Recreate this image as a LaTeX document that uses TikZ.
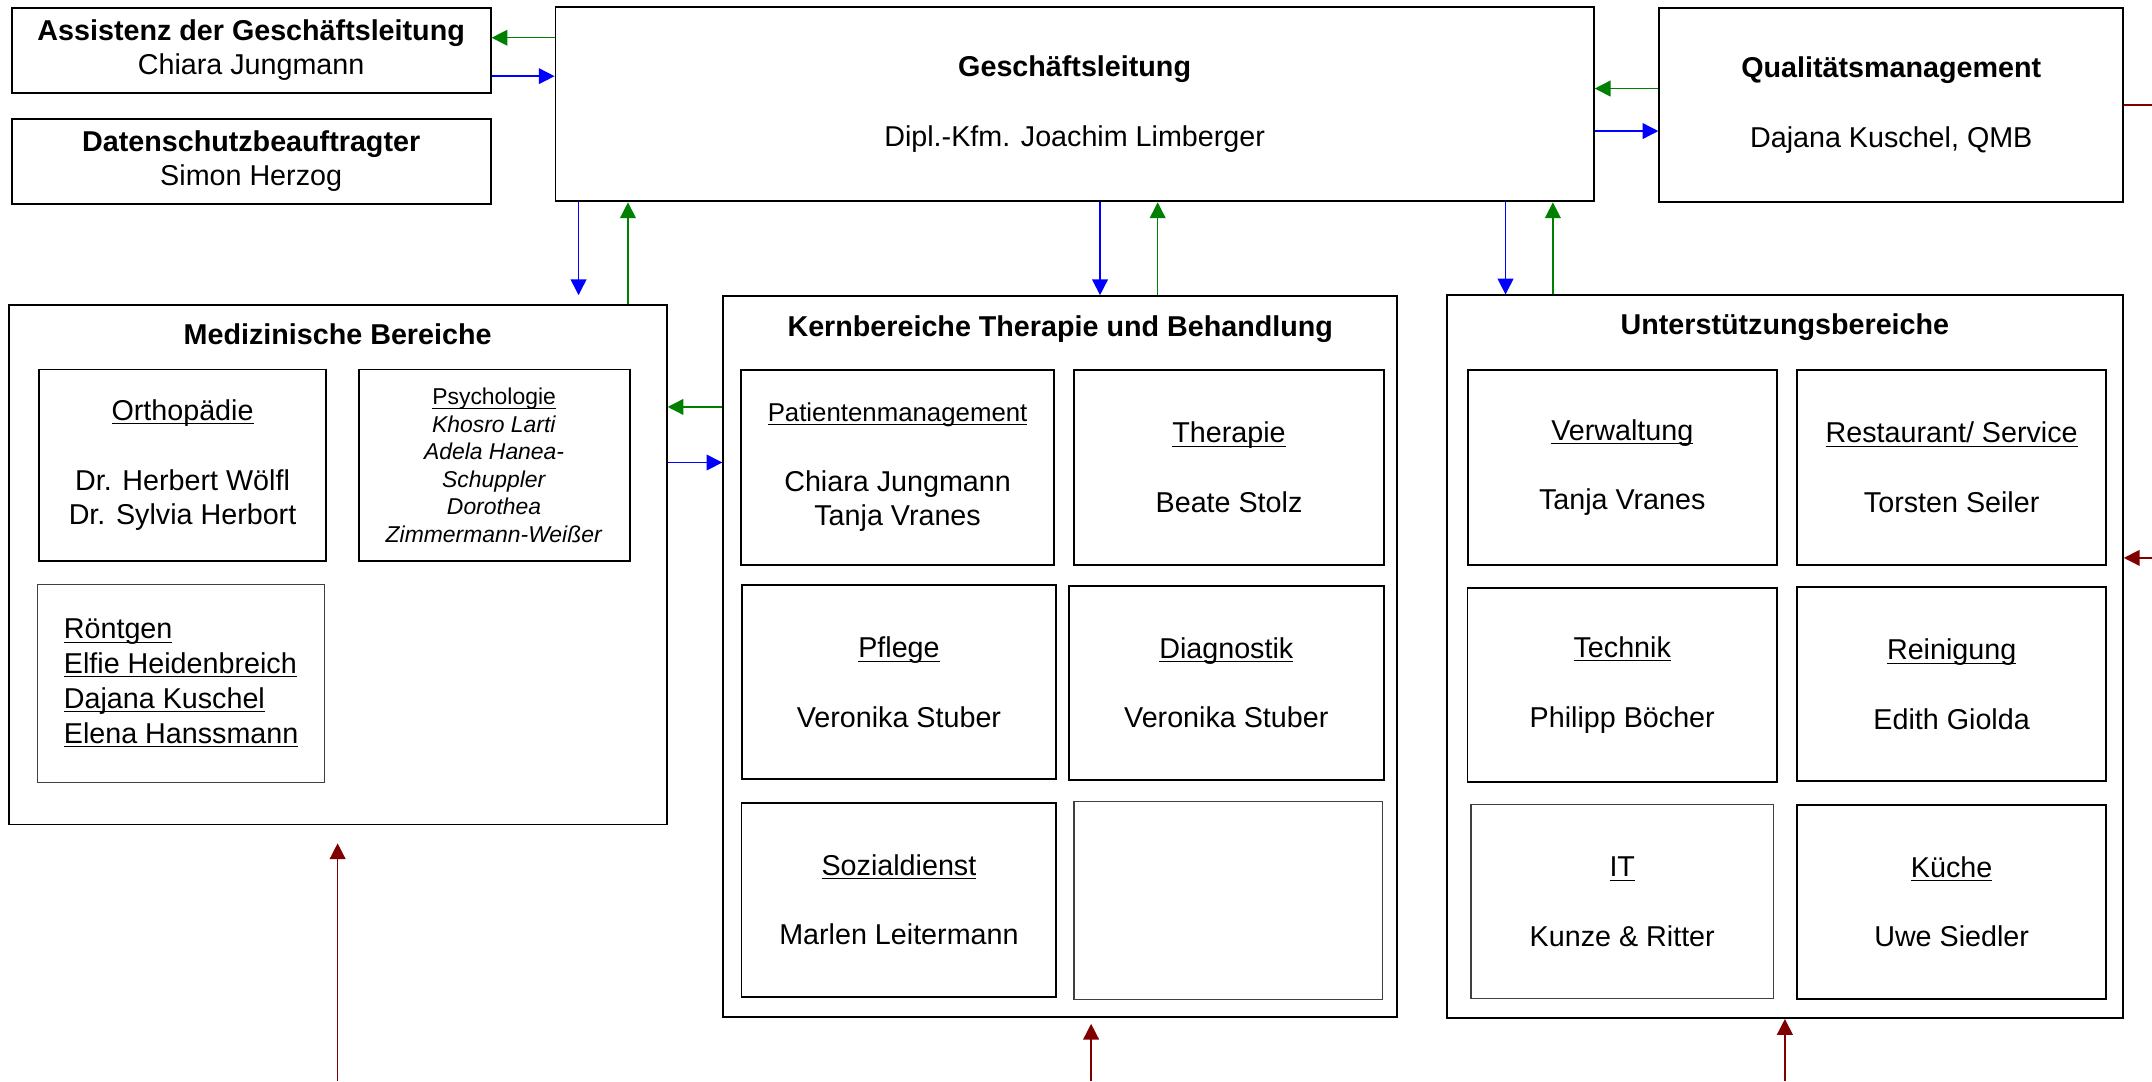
\documentclass[tikz,border=0pt]{standalone}
\usepackage{fontspec}
\setmainfont{Liberation Sans}
\usetikzlibrary{arrows.meta}
\usetikzlibrary{positioning}
\definecolor{gruen}{RGB}{0,128,0}
\definecolor{dunkelrot}{RGB}{128,0,0}
\newcommand{\ustr}[1]{\underline{\raisebox{0pt}[\height][0pt]{#1}}}
\tikzset{
    box/.style={draw, line width=0.8pt, align=center, inner sep=0pt},
    dunnbox/.style={box, draw=black!75, line width=0.5pt},
    bereich/.style={draw, line width=0.8pt, inner sep=0pt},
    titel/.style={font=\fontsize{11.9}{14.4}\selectfont\bfseries, inner sep=0pt},
    weisung/.style={draw=blue, line width=0.6pt, ->},
    meldung/.style={draw=gruen, line width=0.6pt, ->},
    extern/.style={draw=dunkelrot, line width=0.6pt},
}

\begin{document}
\begin{tikzpicture}[>={Triangle[length=2.3mm,width=2.3mm]}, font=\fontsize{11.9}{14.4}\selectfont]

            \useasboundingbox (0,0) rectangle (31.36,-15.753);
            \coordinate (rechts) at (31.36,0);
            \coordinate (unten) at (0,-15.753);

            % Leitung
            \node[box, minimum width=15.13cm, minimum height=2.83cm] (gl) at (15.66,-1.52) {\textbf{Geschäftsleitung}\\[14.4pt] Dipl.-Kfm. Joachim Limberger};
            \node[box, minimum width=6.98cm, minimum height=1.24cm] (assist) at (3.66,-0.73) {\textbf{Assistenz der Geschäftsleitung}\\ Chiara Jungmann};
            \node[box, minimum width=6.98cm, minimum height=1.24cm, below=0.35cm of assist] (dsb) {\textbf{Datenschutzbeauftragter}\\ Simon Herzog};
            \node[box, minimum width=6.76cm, minimum height=2.82cm] (qm) at (27.56,-1.53) {\textbf{Qualitätsmanagement}\\[14.4pt] Dajana Kuschel, QMB};

            % Bereiche
            \node[bereich, minimum width=9.59cm, minimum height=7.57cm] (med) at (4.92,-8.23) {};
            \node[bereich, minimum width=9.82cm, minimum height=10.51cm] (kern) at (15.45,-9.57) {};
            \node[bereich, minimum width=9.85cm, minimum height=10.53cm] (ust) at (26.01,-9.57) {};
            \node[titel, below=0.28cm of med.north] (medtitel) {Medizinische Bereiche};
            \node[titel, below=0.29cm of kern.north] (serntitel) {Kernbereiche Therapie und Behandlung};
            \node[titel, below=0.28cm of ust.north] (usttitel) {Unterstützungsbereiche};

            % Medizinische Bereiche
            \node[box, minimum width=4.18cm, minimum height=2.79cm] (orth) at (2.66,-6.78) {\ustr{Orthopädie}\\[14.4pt] Dr. Herbert Wölfl\\ Dr. Sylvia Herbort};
            \node[box, minimum width=3.95cm, minimum height=2.79cm, font=\fontsize{9.5}{11.4}\selectfont] (psych) at (7.20,-6.78) {\ustr{Psychologie}\\ \textit{Khosro Larti}\\ \textit{Adela Hanea-}\\ \textit{Schuppler}\\ \textit{Dorothea}\\ \textit{Zimmermann-Weißer}};
            \node[dunnbox, minimum width=4.18cm, minimum height=2.89cm, align=left] (roent) at (2.64,-9.96) {\ustr{Röntgen}\\ \ustr{Elfie Heidenbreich}\\ \ustr{Dajana Kuschel}\\ \ustr{Elena Hanssmann}};

            % Kernbereiche
            \node[box, minimum width=4.57cm, minimum height=2.84cm] (patm) at (13.08,-6.81) {{\fontsize{10.7}{14.4}\selectfont\ustr{Patientenmanagement}}\\[14.4pt] Chiara Jungmann\\ Tanja Vranes};
            \node[box, minimum width=4.51cm, minimum height=2.84cm] (ther) at (17.91,-6.81) {\ustr{Therapie}\\[14.4pt] Beate Stolz};
            \node[box, minimum width=4.58cm, minimum height=2.83cm] (pfl) at (13.10,-9.94) {\ustr{Pflege}\\[14.4pt] Veronika Stuber};
            \node[box, minimum width=4.59cm, minimum height=2.82cm] (diag) at (17.87,-9.95) {\ustr{Diagnostik}\\[14.4pt] Veronika Stuber};
            \node[box, minimum width=4.59cm, minimum height=2.83cm] (sozd) at (13.10,-13.11) {\ustr{Sozialdienst}\\[14.4pt] Marlen Leitermann};
            \node[dunnbox, minimum width=4.50cm, minimum height=2.88cm] (leer) at (17.90,-13.12) {};

            % Unterstuetzungsbereiche
            \node[box, minimum width=4.50cm, minimum height=2.84cm] (verw) at (23.64,-6.81) {\ustr{Verwaltung}\\[14.4pt] Tanja Vranes};
            \node[box, minimum width=4.50cm, minimum height=2.84cm] (rest) at (28.44,-6.81) {\ustr{Restaurant/ Service}\\[14.4pt] Torsten Seiler};
            \node[box, minimum width=4.51cm, minimum height=2.83cm] (tech) at (23.64,-9.98) {\ustr{Technik}\\[14.4pt] Philipp Böcher};
            \node[box, minimum width=4.50cm, minimum height=2.83cm] (rein) at (28.44,-9.97) {\ustr{Reinigung}\\[14.4pt] Edith Giolda};
            \node[dunnbox, minimum width=4.41cm, minimum height=2.83cm] (it) at (23.64,-13.14) {\ustr{IT}\\[14.4pt] Kunze \& Ritter};
            \node[box, minimum width=4.50cm, minimum height=2.83cm] (kue) at (28.44,-13.14) {\ustr{Küche}\\[14.4pt] Uwe Siedler};

            % Weisungen (blau) und Rueckmeldungen (gruen)
            \draw[weisung] ([yshift=-0.38cm]assist.east) -- ([yshift=-0.38cm]assist.east -| gl.west);
            \draw[meldung] ([yshift=0.18cm]assist.east -| gl.west) -- ([yshift=0.18cm]assist.east);
            \draw[weisung] ([yshift=-0.39cm]gl.east) -- ([yshift=-0.39cm]gl.east -| qm.west);
            \draw[meldung] ([yshift=0.23cm]gl.east -| qm.west) -- ([yshift=0.23cm]gl.east);
            \draw[weisung, shorten >=0.13cm] ([xshift=0.35cm]gl.south west) -- ([xshift=0.35cm]gl.south west |- med.north);
            \draw[meldung] ([xshift=1.07cm]gl.south west |- med.north) -- ([xshift=1.07cm]gl.south west);
            \draw[weisung] ([xshift=0.37cm]gl.south) -- ([xshift=0.37cm]gl.south |- kern.north);
            \draw[meldung] ([xshift=1.21cm]gl.south |- kern.north) -- ([xshift=1.21cm]gl.south);
            \draw[weisung] ([xshift=-1.30cm]gl.south east) -- ([xshift=-1.30cm]gl.south east |- ust.north);
            \draw[meldung] ([xshift=-0.61cm]gl.south east |- ust.north) -- ([xshift=-0.61cm]gl.south east);
            \draw[meldung] ([yshift=3.64cm]kern.west) -- ([yshift=3.64cm]kern.west -| med.east);
            \draw[weisung] ([yshift=2.83cm]kern.west -| med.east) -- ([yshift=2.83cm]kern.west);

            % Verbindungen nach aussen
            \draw[extern] (qm.east) -- (qm.east -| rechts);
            \draw[extern, ->] ([yshift=1.44cm]ust.east -| rechts) -- ([yshift=1.44cm]ust.east);
            \draw[extern, ->, shorten >=0.26cm] (med.south |- unten) -- (med.south);
            \draw[extern, ->, shorten >=0.08cm] ([xshift=0.45cm]kern.south |- unten) -- ([xshift=0.45cm]kern.south);
            \draw[extern, ->] (ust.south |- unten) -- (ust.south);

        \end{tikzpicture}
\end{document}
